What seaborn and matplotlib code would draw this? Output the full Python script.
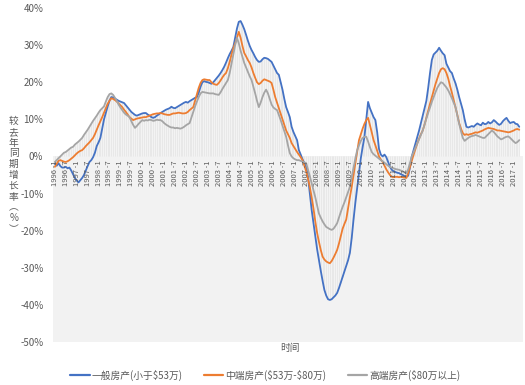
import numpy as np
import pandas as pd
import seaborn as sns
import matplotlib.pyplot as plt
from matplotlib.lines import Line2D

# monthly year-over-year growth (%), 1996-01 .. 2017-04
low_end = [
    -2.0, -2.5, -1.8, -2.6, -3.0, -3.0, -2.8, -3.2, -3.0, -3.8, -4.8, -5.8,
    -6.5, -7.0, -6.4, -5.8, -5.0, -3.8, -2.6, -1.5, -1.0, -0.2, 1.0, 2.8,
    3.8, 5.0, 7.5, 10.0, 11.8, 13.5, 15.0, 16.0, 15.9, 15.6, 15.3, 15.0,
    14.8, 14.6, 14.4, 13.8, 13.2, 12.6, 12.0, 11.6, 11.2, 11.0, 11.2, 11.4,
    11.6, 11.7, 11.7, 11.3, 11.0, 10.6, 10.4, 10.6, 11.0, 11.3, 11.7, 12.0,
    12.3, 12.6, 12.8, 13.0, 13.4, 13.1, 13.0, 13.3, 13.6, 13.9, 14.2, 14.5,
    14.7, 14.5, 14.9, 15.2, 15.5, 15.8, 16.0, 17.2, 18.8, 20.0, 20.3, 20.1,
    20.0, 19.8, 19.6, 20.0, 20.6, 21.2, 21.8, 22.5, 23.3, 24.2, 25.3, 26.5,
    27.6, 28.5, 29.5, 32.0, 34.5, 36.3, 36.5, 35.5, 34.3, 32.8, 31.2, 29.8,
    28.7, 27.8, 26.8, 26.0, 25.5, 25.6, 26.2, 26.6, 26.5, 26.3, 25.9, 25.5,
    24.5, 23.5, 22.5, 22.0, 20.0, 18.0, 15.5, 13.3, 12.0, 10.6, 8.0, 6.6,
    5.5, 4.4, 1.7, 0.5, -0.8, -1.8, -2.8, -5.5, -10.0, -14.4, -18.0, -21.5,
    -25.0, -27.9, -30.8, -33.5, -36.0, -37.5, -38.5, -38.7, -38.5, -38.0, -37.5, -36.8,
    -35.5, -34.0, -32.5, -31.0, -29.5, -28.0, -26.0, -22.0, -17.0, -12.5, -8.5, -4.5,
    -0.5, 2.5, 5.3, 10.0, 14.7, 13.0, 11.8, 10.6, 9.8, 6.5, 2.0, 0.5,
    0.0, 0.5, -0.2, -1.5, -2.8, -3.6, -4.0, -4.2, -4.4, -4.5, -4.8, -5.0,
    -5.3, -5.5, -5.2, -3.0, 0.0, 1.8, 3.5, 5.2, 7.0, 9.0, 11.0, 13.0,
    15.0, 18.5, 22.5, 26.0, 27.5, 28.0, 28.5, 29.3, 28.5, 27.8, 27.3, 25.0,
    24.0, 23.0, 22.5, 21.0, 19.7, 18.0, 16.0, 14.2, 12.5, 10.0, 8.0, 7.8,
    8.0, 8.2, 8.0, 8.5, 8.9, 8.6, 8.4, 9.1, 8.7, 8.8, 9.3, 8.9,
    9.2, 9.8, 9.4, 8.9, 8.5, 8.8, 9.5, 10.0, 10.4, 9.6, 9.0, 9.2,
    9.3, 8.8, 8.7, 8.0,
]

mid_end = [
    -2.8, -2.0, -1.2, -1.0, -1.2, -1.4, -1.5, -1.3, -1.0, -0.6, -0.2, 0.3,
    0.8, 1.2, 1.5, 1.7, 2.2, 2.8, 3.3, 3.8, 4.4, 5.0, 6.0, 7.2,
    8.4, 9.5, 10.6, 11.8, 13.0, 14.2, 15.0, 15.7, 15.5, 15.2, 14.8, 14.3,
    13.8, 13.3, 12.6, 12.0, 11.3, 10.6, 10.2, 9.8, 10.0, 10.2, 10.3, 10.4,
    10.5, 10.6, 10.6, 10.8, 11.0, 11.2, 11.4, 11.5, 11.6, 11.6, 11.7, 11.6,
    11.4, 11.3, 11.2, 11.2, 11.4, 11.6, 11.6, 11.7, 11.8, 11.7, 11.6, 11.6,
    11.7, 12.0, 12.5, 12.9, 13.3, 15.0, 16.8, 18.5, 19.8, 20.6, 20.8, 20.7,
    20.6, 20.6, 20.0, 19.6, 19.4, 19.3, 19.8, 20.5, 21.3, 22.0, 22.5, 23.8,
    25.5, 27.5, 29.2, 30.5, 32.0, 33.6, 32.0, 29.8, 27.9, 27.0, 26.0, 25.2,
    24.0, 22.5, 21.2, 20.0, 19.5, 19.8, 20.4, 20.8, 20.6, 20.4, 20.2, 19.8,
    18.0, 16.0, 14.5, 13.0, 11.5, 10.0, 8.5, 7.0, 6.0, 5.0, 3.6, 2.8,
    2.0, 1.2, 0.5, -0.2, -1.0, -2.5, -4.0, -6.0, -8.2, -11.0, -14.0, -17.5,
    -20.6, -23.0, -25.2, -27.0, -27.8, -28.3, -28.6, -28.8, -28.2, -27.3, -26.3, -25.2,
    -23.5, -21.5, -19.5, -18.2, -17.0, -14.0, -11.0, -8.2, -5.0, -1.8, 1.3, 4.4,
    6.0, 7.5, 8.8, 9.8, 10.4, 8.5, 6.5, 4.4, 3.0, 1.5, 0.0, -0.8,
    -1.5, -2.5, -3.5, -4.3, -5.0, -5.5, -5.6, -5.5, -5.5, -5.6, -5.5, -5.6,
    -5.7, -5.8, -4.5, -2.8, -1.0, 0.5, 2.0, 3.5, 4.8, 6.0, 7.0, 8.6,
    10.5, 12.5, 14.2, 16.0, 17.8, 19.5, 21.0, 22.5, 23.5, 23.8, 23.5, 22.5,
    21.0, 19.0, 17.2, 15.2, 13.3, 11.2, 9.0, 7.5, 6.3, 5.8, 6.0, 5.8,
    6.0, 6.1, 6.3, 6.5, 6.4, 6.6, 6.8, 7.0, 7.3, 7.5, 7.7, 7.6,
    7.5, 7.4, 7.2, 7.0, 7.0, 6.9, 6.8, 6.7, 6.6, 6.5, 6.6, 6.8,
    7.0, 7.3, 7.4, 7.2,
]

high_end = [
    -1.5, -1.0, -0.5, 0.0, 0.5, 1.0, 1.2, 1.6, 2.0, 2.4, 2.6, 3.2,
    3.6, 4.0, 4.5, 5.0, 5.8, 6.5, 7.2, 8.0, 8.8, 9.6, 10.3, 11.0,
    11.8, 12.5, 13.0, 13.5, 14.8, 16.0, 16.8, 17.0, 16.6, 15.8, 15.0, 14.0,
    13.2, 12.5, 11.8, 11.3, 11.0, 10.6, 9.5, 8.5, 7.7, 8.2, 8.8, 9.3,
    9.8, 9.6, 9.8, 9.7, 9.9, 9.8, 9.6, 9.7, 9.9, 9.8, 9.8, 9.5,
    9.0, 8.6, 8.3, 8.0, 7.8, 7.8, 7.6, 7.7, 7.6, 7.5, 7.7, 8.0,
    8.4, 8.7, 9.0, 10.5, 12.0, 13.5, 14.8, 16.0, 17.0, 17.4, 17.3, 17.2,
    17.1, 17.0, 17.0, 17.0, 16.8, 16.7, 16.6, 17.3, 18.2, 19.0, 19.8, 20.6,
    22.5, 25.0, 27.5, 30.0, 32.0, 30.5, 28.5, 26.8, 25.2, 24.0, 22.8, 21.6,
    20.6, 18.8, 17.0, 15.0, 13.3, 14.5, 16.0, 17.2, 18.0, 17.0, 15.5, 14.0,
    13.2, 12.8, 12.5, 11.2, 9.8, 8.3, 6.8, 5.3, 3.0, 0.9, 0.0, -0.5,
    -0.8, -1.0, -1.0, -1.2, -1.4, -1.6, -1.8, -3.5, -5.3, -7.2, -9.0, -11.0,
    -13.2, -15.4, -16.5, -17.5, -18.3, -19.0, -19.3, -19.6, -19.8, -19.5, -18.8, -18.0,
    -16.5, -15.0, -13.6, -12.4, -11.0, -9.6, -8.2, -5.5, -3.0, -0.6, 1.7, 3.0,
    4.2, 5.0, 5.3, 5.3, 4.0, 2.5, 1.2, 0.6, 0.2, -0.2, -0.6, -1.0,
    -1.3, -1.7, -2.1, -2.5, -2.8, -3.0, -3.2, -3.4, -3.5, -3.6, -3.8, -4.1,
    -4.3, -4.5, -3.5, -1.8, 0.0, 1.2, 2.4, 3.5, 4.7, 5.8, 7.0, 8.6,
    10.2, 11.8, 13.2, 14.7, 16.0, 17.3, 18.5, 19.3, 20.0, 19.8, 19.2, 18.6,
    17.8, 16.8, 15.7, 14.5, 13.3, 11.0, 8.8, 6.8, 5.0, 4.2, 4.6, 5.0,
    5.3, 5.5, 5.6, 5.8, 5.6, 5.4, 5.2, 5.0, 5.0, 5.5, 6.0, 6.5,
    7.0, 6.6, 6.0, 5.4, 5.0, 4.6, 4.8, 5.1, 5.3, 5.4, 5.0, 4.5,
    4.0, 3.6, 3.9, 4.4,
]

series_names = ["一般房产(小于\\$53万)", "中端房产(\\$53万-\\$80万)", "高端房产(\\$80万以上)"]
series_colors = ["#4472C4", "#ED7D31", "#A5A5A5"]
y_ticks = [-50, -40, -30, -20, -10, 0, 10, 20, 30, 40]
ylabel_chars = ["较", "去", "年", "同", "期", "增", "长", "率", "︵", "%", "︶"]

n = len(low_end)
idx = np.arange(n)
tick_pos = list(range(0, n, 6))
tick_labels = [f"{1996 + p // 12} -{1 if p % 12 == 0 else 7}" for p in tick_pos]

sns.set_style("white")
plt.rcParams['font.family'] = ['Noto Sans CJK SC', 'DejaVu Sans']

fig = plt.figure(figsize=(5.25, 3.85), dpi=100)
ax = fig.add_axes([0.101, 0.112, 0.895, 0.867])

# light background below zero
ax.axhspan(-50, 0, color="#f2f2f2", lw=0, zorder=0)

# striped area under the envelope of the three curves
arr = np.vstack([low_end, mid_end, high_end])
env = np.where(arr.max(axis=0) > 0, arr.max(axis=0), arr.min(axis=0))
ax.fill_between(idx, 0, env, color="#f3f3f3", lw=0, zorder=1)
ax.vlines(idx, 0, env, color="#e0e0e0", lw=0.4, zorder=1)

df = pd.DataFrame({"idx": idx, series_names[0]: low_end,
                   series_names[1]: mid_end, series_names[2]: high_end})
for name, col in zip(series_names, series_colors):
    sns.lineplot(data=df, x="idx", y=name, color=col, lw=1.3, ax=ax, zorder=3)

ax.set_xlim(-1, n + 1)
ax.set_ylim(-50, 40)
ax.set_yticks(y_ticks)
ax.set_yticklabels([f"{v}%" for v in y_ticks], fontsize=7, color="#595959")
ax.tick_params(axis="y", length=0, pad=7)
ax.set_xticks([])
ax.set_xlabel("")
ax.set_ylabel("")
for s in ax.spines.values():
    s.set_visible(False)

for p, lab in zip(tick_pos, tick_labels):
    ax.text(p, -1.0, lab, rotation=90, ha="center", va="top",
            fontsize=5.5, color="#595959", zorder=4)

fig.text(0.552, 0.096, "时间", ha="center", va="center", fontsize=7, color="#595959")
# vertical stacked y-axis title
for k, ch in enumerate(ylabel_chars):
    fig.text(0.026, 1 - (121 + k * 10.8) / 385, ch, ha="center", va="center",
             fontsize=7, color="#595959")

handles = [Line2D([0], [0], color=c, lw=1.6) for c in series_colors]
fig.legend(handles, series_names, loc="center", bbox_to_anchor=(0.505, 0.025),
           ncol=3, frameon=False, fontsize=7, handlelength=2.0,
           columnspacing=2.2, handletextpad=0.2, labelcolor="#595959")

fig.savefig("out.png", dpi=100)
